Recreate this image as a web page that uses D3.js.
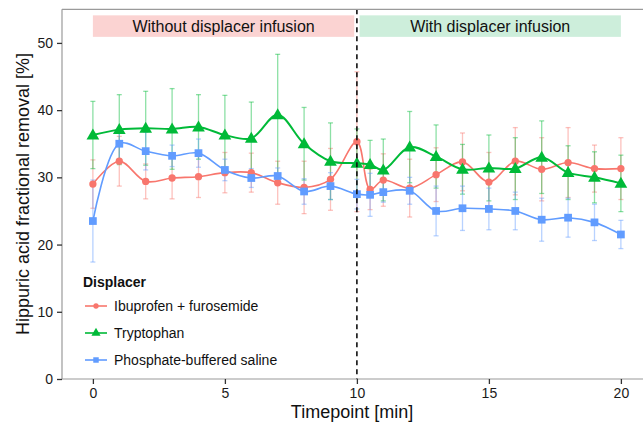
<!DOCTYPE html>
<html>
<head>
<meta charset="utf-8">
<script src="https://cdn.jsdelivr.net/npm/d3@7"></script>
<style>
  body { margin: 0; background: #fff; }
  text { font-family: "Liberation Sans", Arial, sans-serif; }
</style>
</head>
<body>
<script>
// timepoints (min)
var timepoints = [0, 1, 2, 3, 4, 5, 6, 7, 8, 9, 10, 10.5, 11, 12, 13, 14, 15, 16, 17, 18, 19, 20];

// mean values per displacer
var ibuprofen = [29.0, 32.4, 29.4, 29.9, 30.1, 30.7, 30.7, 29.2, 28.5, 29.7, 35.3, 28.2, 29.6, 28.4, 30.4, 32.3, 29.3, 32.4, 31.2, 32.2, 31.3, 31.3];
var tryptophan = [36.3, 37.1, 37.3, 37.2, 37.5, 36.3, 35.8, 39.3, 35.0, 32.4, 32.1, 31.9, 31.1, 34.5, 33.1, 31.2, 31.4, 31.3, 33.0, 30.7, 30.0, 29.1];
var pbs = [23.5, 35.0, 33.9, 33.2, 33.6, 31.1, 29.9, 30.2, 27.9, 28.7, 27.5, 27.4, 27.8, 28.0, 25.0, 25.4, 25.3, 25.0, 23.7, 24.0, 23.3, 21.5];

// error bar half-widths
var ibuprofenErr = [3.6, 3.7, 2.6, 3.1, 3.1, 3.0, 2.9, 3.2, 3.9, 4.6, 10.4, 3.0, 3.9, 4.3, 4.0, 4.3, 4.4, 5.0, 4.7, 5.2, 3.5, 4.6];
var tryptophanErr = [5.0, 5.2, 5.5, 6.0, 4.8, 5.9, 5.4, 9.0, 5.4, 5.7, 5.1, 3.6, 4.6, 5.3, 4.7, 3.7, 4.9, 4.6, 5.4, 4.0, 3.8, 4.2];
var pbsErr = [6.1, 2.3, 2.8, 1.6, 2.1, 1.6, 1.4, 1.2, 1.9, 2.0, 2.2, 3.2, 1.5, 2.0, 3.7, 3.3, 3.1, 2.8, 3.2, 2.9, 2.7, 2.1];

var seriesNames = ["Ibuprofen + furosemide", "Tryptophan", "Phosphate-buffered saline"];
var seriesColors = ["#F8766D", "#00BA38", "#619CFF"];
var seriesShapes = [d3.symbolCircle, d3.symbolTriangle, d3.symbolSquare];

var xTicks = [0, 5, 10, 15, 20];
var yTicks = [0, 10, 20, 30, 40, 50];

var phases = [
  { label: "Without displacer infusion", x0: 0, x1: 9.9, fill: "#FBD3D2" },
  { label: "With displacer infusion", x0: 10.1, x1: 20, fill: "#CDEEDB" }
];

var w = 643, h = 427;
var svg = d3.select("body").append("svg")
  .attr("width", w)
  .attr("height", h);

var x = d3.scaleLinear().domain([-1.17, 21]).range([62, 62 + 22.17 * 26.4]);
var y = d3.scaleLinear().domain([0, 55]).range([379, 9.3]);

var series = seriesNames.map(function(name, i) {
  var vals = [ibuprofen, tryptophan, pbs][i];
  var errs = [ibuprofenErr, tryptophanErr, pbsErr][i];
  return {
    name: name,
    color: seriesColors[i],
    shape: seriesShapes[i],
    points: timepoints.map(function(t, j) {
      return { t: t, v: vals[j], e: errs[j] };
    })
  };
});

// phase labels
var ph = svg.append("g");
ph.selectAll("rect")
  .data(phases)
  .enter().append("rect")
  .attr("x", function(d) { return x(d.x0); })
  .attr("width", function(d) { return x(d.x1) - x(d.x0); })
  .attr("y", y(54.1))
  .attr("height", y(50.9) - y(54.1))
  .attr("fill", function(d) { return d.fill; });
ph.selectAll("text")
  .data(phases)
  .enter().append("text")
  .attr("x", function(d) { return (x(d.x0) + x(d.x1)) / 2; })
  .attr("y", y(52.5))
  .attr("dy", "0.36em")
  .attr("text-anchor", "middle")
  .attr("font-size", "16px")
  .attr("fill", "#111")
  .text(function(d) { return d.label; });

// error bars
series.forEach(function(s) {
  var g = svg.append("g")
    .attr("stroke", s.color)
    .attr("stroke-opacity", 0.45)
    .attr("stroke-width", 1.3);
  g.selectAll("line.bar")
    .data(s.points)
    .enter().append("line")
    .attr("x1", function(d) { return x(d.t); })
    .attr("x2", function(d) { return x(d.t); })
    .attr("y1", function(d) { return y(d.v - d.e); })
    .attr("y2", function(d) { return y(d.v + d.e); });
  [-1, 1].forEach(function(sign) {
    g.selectAll(null)
      .data(s.points)
      .enter().append("line")
      .attr("x1", function(d) { return x(d.t) - 2.5; })
      .attr("x2", function(d) { return x(d.t) + 2.5; })
      .attr("y1", function(d) { return y(d.v + sign * d.e); })
      .attr("y2", function(d) { return y(d.v + sign * d.e); });
  });
});

// smoothed lines
var line = d3.line()
  .x(function(d) { return x(d.t); })
  .y(function(d) { return y(d.v); })
  .curve(d3.curveCatmullRom.alpha(0.5));

series.forEach(function(s, i) {
  svg.append("path")
    .datum(s.points)
    .attr("fill", "none")
    .attr("stroke", s.color)
    .attr("stroke-width", i === 1 ? 2 : 1.6)
    .attr("d", line);
});

// markers
var sizes = [42, 70, 60];
series.forEach(function(s, i) {
  svg.append("g").selectAll("path")
    .data(s.points)
    .enter().append("path")
    .attr("transform", function(d) {
      return "translate(" + x(d.t) + "," + (y(d.v) + (i === 1 ? 0.8 : 0)) + ")";
    })
    .attr("d", d3.symbol().type(s.shape).size(sizes[i]))
    .attr("fill", s.color);
});

// dashed divider at 10 min
svg.append("line")
  .attr("x1", x(10)).attr("x2", x(10))
  .attr("y1", y(55)).attr("y2", y(0))
  .attr("stroke", "#111")
  .attr("stroke-width", 1.6)
  .attr("stroke-dasharray", "5,4");

// panel border (left, top, bottom)
var border = svg.append("g").attr("stroke", "#9a9a9a").attr("stroke-width", 1.2);
border.append("line").attr("x1", 62).attr("x2", 62).attr("y1", y(55)).attr("y2", y(0));
border.append("line").attr("x1", 62).attr("x2", w).attr("y1", y(55)).attr("y2", y(55));
border.append("line").attr("x1", 62).attr("x2", w).attr("y1", y(0)).attr("y2", y(0));

// axes
var yAxis = svg.append("g")
  .attr("transform", "translate(62,0)")
  .call(d3.axisLeft(y).tickValues(yTicks).tickSize(5).tickPadding(4));
var xAxis = svg.append("g")
  .attr("transform", "translate(0," + y(0) + ")")
  .call(d3.axisBottom(x).tickValues(xTicks).tickSize(5).tickPadding(4));
[xAxis, yAxis].forEach(function(a) {
  a.select(".domain").remove();
  a.selectAll(".tick line").attr("stroke", "#333").attr("stroke-width", 1.3);
  a.selectAll(".tick text")
    .attr("font-size", "14px")
    .attr("font-family", "Liberation Sans, Arial, sans-serif")
    .attr("fill", "#1a1a1a");
});

// axis titles
svg.append("text")
  .attr("x", 352)
  .attr("y", 418)
  .attr("text-anchor", "middle")
  .attr("font-size", "18px")
  .attr("fill", "#111")
  .text("Timepoint [min]");
svg.append("text")
  .attr("transform", "translate(29," + 194 + ") rotate(-90)")
  .attr("text-anchor", "middle")
  .attr("font-size", "18px")
  .attr("fill", "#111")
  .text("Hippuric acid fractional removal [%]");

// legend
var legend = svg.append("g");
legend.append("text")
  .attr("x", 83)
  .attr("y", 287)
  .attr("font-size", "14px")
  .attr("font-weight", "bold")
  .attr("fill", "#111")
  .text("Displacer");
var items = legend.selectAll("g.item")
  .data(series)
  .enter().append("g")
  .attr("transform", function(d, i) { return "translate(0," + (306 + i * 27) + ")"; });
items.append("line")
  .attr("x1", 85).attr("x2", 107)
  .attr("stroke", function(d) { return d.color; })
  .attr("stroke-width", 1.6);
items.append("path")
  .attr("transform", "translate(96,0)")
  .attr("d", function(d, i) { return d3.symbol().type(d.shape).size([22, 36, 30][i])(); })
  .attr("fill", function(d) { return d.color; });
items.append("text")
  .attr("x", 114)
  .attr("dy", "0.36em")
  .attr("font-size", "14px")
  .attr("fill", "#111")
  .text(function(d) { return d.name; });
</script>
</body>
</html>
